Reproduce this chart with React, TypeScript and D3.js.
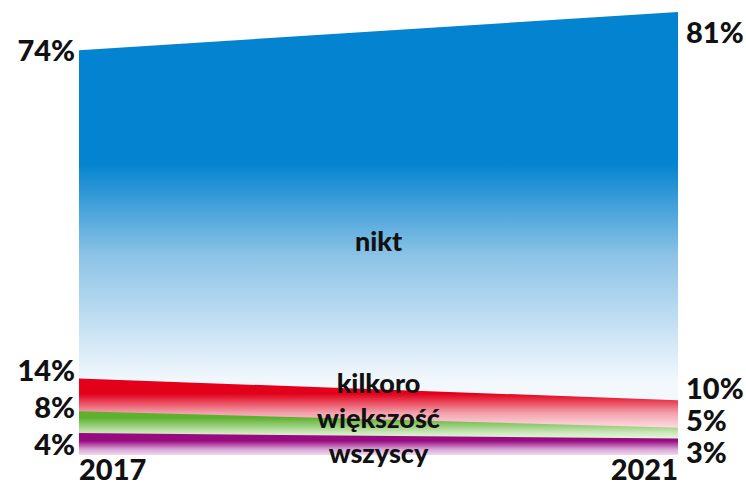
import React from "react";
import * as d3 from "d3";

// values (percent)
const years = [2017, 2021];
const seriesNames = ["nikt", "kilkoro", "większość", "wszyscy"];
const nikt = [74, 81];
const kilkoro = [14, 10];
const wiekszosc = [8, 5];
const wszyscy = [4, 3];
const seriesValues = [nikt, kilkoro, wiekszosc, wszyscy];

// top colour of each band and how it fades downwards
const gradients = [
  [[0, "#0383d0"], [0.34, "#0383d0"], [0.55, "#8cc3e6"], [0.83, "#f1f7fc"], [1, "#fafcfe"]],
  [[0, "#e2001a"], [0.2, "#e2001a"], [0.45, "#f2a0ac"], [0.62, "#fbd5da"], [1, "#ffffff"]],
  [[0, "#5db12f"], [0.15, "#5db12f"], [0.5, "#cfe9c0"], [0.65, "#eaf6e3"], [1, "#ffffff"]],
  [[0, "#980a80"], [0.35, "#980a80"], [0.75, "#d9a6d6"], [1, "#f0d8ee"]],
] as [number, string][][];

const W = 746;
const H = 485;
const FONT = "Lato, 'Open Sans', sans-serif";

// push label centres apart so they do not overlap
function spread(pos: number[], gap: number, lo: number, hi: number) {
  const p = pos.slice();
  const order = d3.range(p.length).sort((a, b) => p[a] - p[b]);
  for (let it = 0; it < 200; it++) {
    for (let k = 0; k < order.length - 1; k++) {
      const a = order[k], b = order[k + 1];
      const d = p[b] - p[a];
      if (d < gap) {
        const m = (gap - d) / 2;
        p[a] -= m;
        p[b] += m;
      }
    }
    for (let i = 0; i < p.length; i++) p[i] = Math.max(lo, Math.min(hi, p[i]));
  }
  return p;
}

export default function App() {
  const x = d3.scaleLinear().domain(d3.extent(years) as [number, number]).range([79, 678]);
  const maxV = d3.max(seriesValues.flat()) as number;
  const y = d3.scaleLinear().domain([0, maxV]).range([455, 12]);

  const area = d3
    .area<[number, number]>()
    .x((d) => x(d[0]))
    .y0(y(0))
    .y1((d) => y(d[1]));

  const leftY = spread(seriesValues.map((v) => y(v[0])), 37, 33, 446);
  const rightY = spread(seriesValues.map((v) => y(v[1])), 32, 33, 453);

  const midX = (x(years[0]) + x(years[1])) / 2;
  const nameY = spread(
    seriesValues.map((v) => (y(d3.mean(v) as number) + y(0)) / 2),
    35,
    0,
    455
  );

  return (
    <div style={{ position: "absolute", left: 0, top: 0 }}>
      <svg width={W} height={H} style={{ display: "block", background: "#fff" }}>
        <defs>
          {gradients.map((stops, i) => (
            <linearGradient key={i} id={`g${i}`} x1="0" y1="0" x2="0" y2="1">
              {stops.map(([o, c], j) => (
                <stop key={j} offset={o} stopColor={c} />
              ))}
            </linearGradient>
          ))}
        </defs>

        {seriesValues.map((vals, i) => (
          <path
            key={seriesNames[i]}
            d={area(years.map((yr, j) => [yr, vals[j]] as [number, number])) || ""}
            fill={`url(#g${i})`}
          />
        ))}

        <g fontFamily={FONT} fontWeight={900} fontSize={29} fill="#111">
          {seriesValues.map((vals, i) => (
            <text key={"l" + i} x={75} y={leftY[i]} dy="0.36em" textAnchor="end">
              {vals[0]}%
            </text>
          ))}
          {seriesValues.map((vals, i) => (
            <text key={"r" + i} x={686} y={rightY[i]} dy="0.36em">
              {vals[1]}%
            </text>
          ))}
          <text x={x(years[0])} y={480}>{years[0]}</text>
          <text x={x(years[1])} y={480} textAnchor="end">{years[1]}</text>
        </g>

        <g fontFamily={FONT} fontWeight={900} fontSize={27} fill="#111" textAnchor="middle">
          {seriesNames.map((n, i) => (
            <text key={n} x={midX} y={nameY[i]} dy="0.3em">
              {n}
            </text>
          ))}
        </g>
      </svg>
    </div>
  );
}
